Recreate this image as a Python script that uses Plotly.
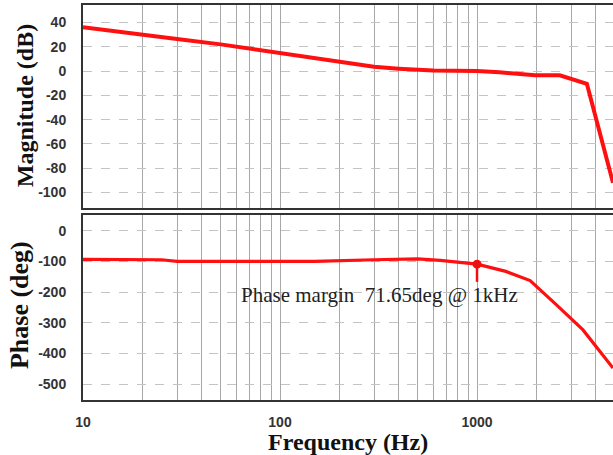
import math
import plotly.graph_objects as go
from plotly.subplots import make_subplots

# Open-loop Bode data
mag_freq = [10, 20, 30, 50, 80, 100, 200, 300, 400, 600, 1000, 1300, 1970, 2630, 3610, 4900]
mag_db = [36, 29.5, 26.5, 22, 17, 15, 8, 3.5, 2, 0.5, 0, -1, -3.5, -3.5, -10.5, -92]

phase_freq = [10, 25, 30, 100, 150, 300, 500, 650, 1000, 1400, 1860, 2500, 3450, 4900]
phase_deg = [-93, -94, -99, -99, -99, -94, -91, -96, -108.35, -132, -162, -238, -323, -447]

# Phase margin point
pm_freq = 1000
pm_phase = -108.35
pm_label = "Phase margin\u00a0 71.65deg @ 1kHz"

# Axis ticks
x_grid = [m * 10 ** e for e in (1, 2, 3) for m in range(1, 10) if m * 10 ** e < 5000]
x_labels = {10: "10", 100: "100", 1000: "1000"}
x_text = [x_labels.get(v, "") for v in x_grid]
mag_ticks = [40, 20, 0, -20, -40, -60, -80, -100]
mag_text = ["40", "20", "0", "-20", "-40", "-60", "-80", "-100"]
phase_ticks = [0, -100, -200, -300, -400, -500]
phase_text = ["0", "-100", "-200", "-300", "-400", "-500"]

fig = make_subplots(rows=2, cols=1, shared_xaxes=False)

fig.add_trace(go.Scatter(x=mag_freq, y=mag_db, mode="lines",
                         line=dict(color="#ff1010", width=4), showlegend=False),
              row=1, col=1)
fig.add_trace(go.Scatter(x=phase_freq, y=phase_deg, mode="lines",
                         line=dict(color="#ff1010", width=3.2), showlegend=False),
              row=2, col=1)
fig.add_trace(go.Scatter(x=[pm_freq], y=[pm_phase], mode="markers",
                         marker=dict(color="#ee1010", size=9), showlegend=False),
              row=2, col=1)
# marker stem below the phase-margin point
fig.add_trace(go.Scatter(x=[pm_freq, pm_freq], y=[pm_phase, -166], mode="lines",
                         line=dict(color="#ee1010", width=2.5), showlegend=False),
              row=2, col=1)

x_range = [1, math.log10(4900)]
tick_font = dict(family="Liberation Sans, Arial", size=14, color="#333333", weight="bold")
axis_common = dict(
    type="log", range=x_range, tickmode="array", tickvals=x_grid, ticktext=x_text,
    showgrid=True, gridcolor="#a8a8a8", gridwidth=1,
    showline=True, linecolor="#333333", linewidth=2, mirror=True,
    ticks="", zeroline=False, tickfont=tick_font, ticklabelstandoff=8,
)
fig.update_xaxes(**axis_common)
fig.update_xaxes(showticklabels=False, domain=[0, 1], row=1, col=1)
fig.update_xaxes(showticklabels=True, domain=[0, 1], row=2, col=1)

yaxis_common = dict(
    showgrid=True, gridcolor="#c4c4c4", gridwidth=1, griddash="dash",
    showline=True, linecolor="#333333", linewidth=2, mirror=False,
    ticks="", zeroline=False, tickfont=tick_font, ticklabelstandoff=12,
    tickmode="array",
)
fig.update_yaxes(**yaxis_common)
fig.update_yaxes(range=[-112.7, 54.4], tickvals=mag_ticks, ticktext=mag_text,
                 domain=[192 / 395, 1], row=1, col=1)
fig.update_yaxes(range=[-551.5, 52], tickvals=phase_ticks, ticktext=phase_text,
                 domain=[0, 185 / 395], row=2, col=1)

serif = "Liberation Serif, Times New Roman"
fig.add_annotation(text="<b>Frequency (Hz)</b>", xref="paper", yref="paper",
                   x=0.5, y=-0.106, xanchor="center", yanchor="middle",
                   showarrow=False, font=dict(family=serif, size=24, color="#111111"))
fig.add_annotation(text="<b>Magnitude (dB)</b>", xref="paper", yref="paper",
                   x=-0.1094, y=0.744, xanchor="center", yanchor="middle",
                   textangle=-90, showarrow=False,
                   font=dict(family=serif, size=24, color="#111111"))
fig.add_annotation(text="<b>Phase (deg)</b>", xref="paper", yref="paper",
                   x=-0.121, y=0.24, xanchor="center", yanchor="middle",
                   textangle=-90, showarrow=False,
                   font=dict(family=serif, size=26, color="#111111"))
fig.add_annotation(text=pm_label, xref="x2", yref="y2",
                   x=2.503, y=-209, xanchor="center", yanchor="middle",
                   showarrow=False, font=dict(family=serif, size=21, color="#222222"))

fig.update_layout(
    width=613, height=455,
    margin=dict(l=83, r=0, t=5, b=55),
    paper_bgcolor="white", plot_bgcolor="white",
)

fig.write_html("out.html")
